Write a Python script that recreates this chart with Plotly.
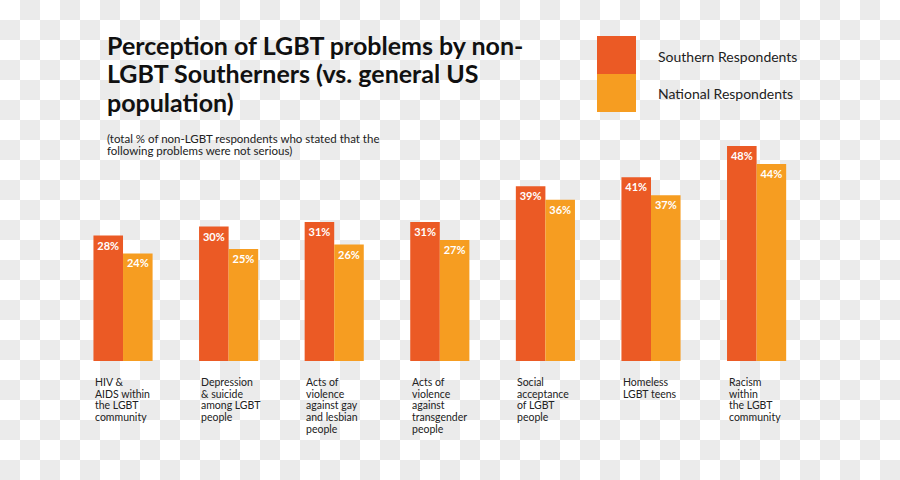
import base64
import plotly.graph_objects as go

# ---- data ----
categories = [
    "HIV &\nAIDS within\nthe LGBT\ncommunity",
    "Depression\n& suicide\namong LGBT\npeople",
    "Acts of\nviolence\nagainst gay\nand lesbian\npeople",
    "Acts of\nviolence\nagainst\ntransgender\npeople",
    "Social\nacceptance\nof LGBT\npeople",
    "Homeless\nLGBT teens",
    "Racism\nwithin\nthe LGBT\ncommunity",
]
southern = [28, 30, 31, 31, 39, 41, 48]
national = [24, 25, 26, 27, 36, 37, 44]
series_names = ["Southern Respondents", "National Respondents"]
title_lines = ["Perception of LGBT problems by non-",
               "LGBT Southerners (vs. general US",
               "population)"]
subtitle_lines = ["(total % of non-LGBT respondents who stated that the",
                  "following problems were not serious)"]

# ---- style ----
C_SOUTH = "#eb5a25"
C_NAT = "#f69d21"
FONT = "Lato"
W, H = 900, 480

def py(p):  # pixel y -> paper y
    return 1 - p / H

def px(p):
    return p / W

xs = list(range(len(categories)))

fig = go.Figure()
for name, vals, col in [(series_names[0], southern, C_SOUTH), (series_names[1], national, C_NAT)]:
    fig.add_trace(go.Bar(
        x=xs, y=vals, name=name, marker=dict(color=col, line=dict(width=0)),
        texttemplate="%{y}%", textposition="inside", insidetextanchor="end",
        textangle=0, constraintext="none",
        textfont=dict(family=FONT, size=11, color="white", weight="bold"),
        hoverinfo="skip", cliponaxis=False,
    ))

# checkerboard background (transparent-PNG look)
svg = ("<svg xmlns='http://www.w3.org/2000/svg' width='900' height='480'>"
       "<defs><pattern id='p' width='40' height='40' patternUnits='userSpaceOnUse'>"
       "<rect width='40' height='40' fill='#ffffff'/>"
       "<rect x='20' y='0' width='20' height='20' fill='#ebebeb'/>"
       "<rect x='0' y='20' width='20' height='20' fill='#ebebeb'/>"
       "</pattern></defs><rect width='900' height='480' fill='url(#p)'/></svg>")
src = "data:image/svg+xml;base64," + base64.b64encode(svg.encode()).decode()

annotations = []
# title
for i, t in enumerate(title_lines):
    annotations.append(dict(text=t, xref="paper", yref="paper", x=px(105), y=py(45 + 28.5 * i),
                            xanchor="left", yanchor="middle", showarrow=False,
                            font=dict(family=FONT, size=25, color="#111111", weight="bold")))
for i, t in enumerate(subtitle_lines):
    annotations.append(dict(text=t, xref="paper", yref="paper", x=px(105), y=py(138 + 12 * i),
                            xanchor="left", yanchor="middle", showarrow=False,
                            font=dict(family=FONT, size=11.5, color="#222222")))
# legend texts
for i, t in enumerate(series_names):
    annotations.append(dict(text=t, xref="paper", yref="paper", x=px(656), y=py(56 + 38 * i),
                            xanchor="left", yanchor="middle", showarrow=False,
                            font=dict(family=FONT, size=14, color="#222222")))
# category labels (left aligned under the bar pairs)
for xi, cat in zip(xs, categories):
    for j, line in enumerate(cat.split("\n")):
        annotations.append(dict(text=line, xref="x", yref="paper", x=xi, y=py(382 + 11.7 * j),
                                xanchor="left", yanchor="middle", showarrow=False, xshift=-30,
                                font=dict(family=FONT, size=10.5, color="#222222")))

shapes = [
    dict(type="rect", xref="paper", yref="paper", x0=px(597), x1=px(636), y0=py(74), y1=py(36),
         fillcolor=C_SOUTH, line=dict(width=0)),
    dict(type="rect", xref="paper", yref="paper", x0=px(597), x1=px(636), y0=py(112), y1=py(74),
         fillcolor=C_NAT, line=dict(width=0)),
]

fig.update_layout(
    width=W, height=H, margin=dict(l=0, r=0, t=0, b=0),
    paper_bgcolor="white", plot_bgcolor="rgba(0,0,0,0)",
    barmode="group", bargap=0.44, bargroupgap=0,
    showlegend=False,
    images=[dict(source=src, xref="paper", yref="paper", x=0, y=1, sizex=1, sizey=1,
                 xanchor="left", yanchor="top", sizing="stretch", layer="below")],
    annotations=annotations, shapes=shapes,
    xaxis=dict(range=[-1.165, 7.358], domain=[0, 1], visible=False, fixedrange=True),
    yaxis=dict(range=[0, 50], domain=[py(361), py(137)], visible=False, fixedrange=True),
)

fig.write_html("out.html", config={"displayModeBar": False},
               post_script="document.body.style.margin='0';document.body.style.overflow='hidden';")
